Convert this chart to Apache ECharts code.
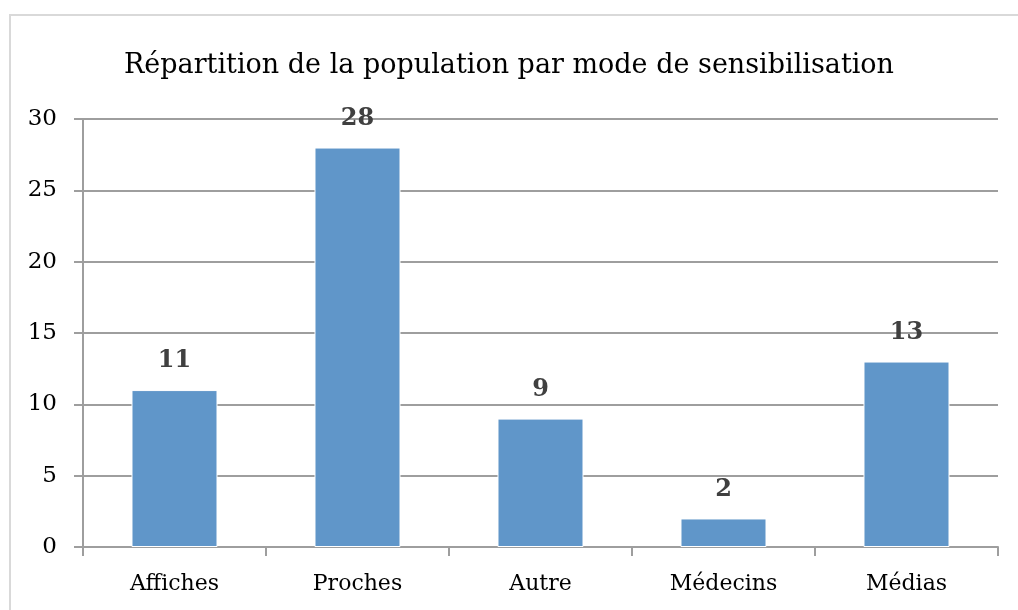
<!DOCTYPE html>
<html>
<head>
<meta charset="utf-8">
<script src="https://cdn.jsdelivr.net/npm/echarts@6/dist/echarts.min.js"></script>
<style>
  html, body { margin: 0; padding: 0; background: #fff; }
  #chart { width: 1018px; height: 610px; }
</style>
</head>
<body>
<div id="chart"></div>
<script>
  // données
  const categories = ["Affiches", "Proches", "Autre", "Médecins", "Médias"];
  const effectifs = [11, 28, 9, 2, 13];
  const yTicks = { min: 0, max: 30, interval: 5 };

  const font = "'DejaVu Serif', 'Liberation Serif', serif";
  const gris = "#9e9e9e";

  const chart = echarts.init(document.getElementById("chart"));
  chart.setOption({
    animation: false,
    title: {
      text: "Répartition de la population par mode de sensibilisation",
      left: "center",
      top: 47,
      textStyle: { fontFamily: font, fontSize: 27, fontWeight: "normal", color: "#000" }
    },
    graphic: [
      {
        type: "rect",
        shape: { x: 10, y: 15, width: 1030, height: 620 },
        style: { fill: "none", stroke: "#d9d9d9", lineWidth: 2 },
        silent: true
      }
    ],
    grid: { left: 83, right: 20, top: 119, bottom: 63, containLabel: false },
    xAxis: {
      type: "category",
      data: categories,
      axisLine: { lineStyle: { color: gris, width: 2 } },
      axisTick: { show: true, length: 9, lineStyle: { color: gris, width: 2 } },
      axisLabel: { fontFamily: font, fontSize: 22, color: "#000", margin: 26 }
    },
    yAxis: {
      type: "value",
      min: yTicks.min,
      max: yTicks.max,
      interval: yTicks.interval,
      axisLine: { show: true, lineStyle: { color: gris, width: 2 } },
      axisTick: { show: true, length: 9, lineStyle: { color: gris, width: 2 } },
      axisLabel: { fontFamily: font, fontSize: 23, color: "#000", margin: 26 },
      splitLine: { lineStyle: { color: gris, width: 2 } }
    },
    series: [
      {
        type: "bar",
        data: effectifs,
        barWidth: "47%",
        itemStyle: { color: "#6096c9", borderColor: "#fff", borderWidth: 1 },
        label: {
          show: true,
          position: "top",
          distance: 17,
          fontFamily: font,
          fontSize: 24,
          fontWeight: "bold",
          color: "#404040"
        }
      }
    ]
  });
</script>
</body>
</html>
